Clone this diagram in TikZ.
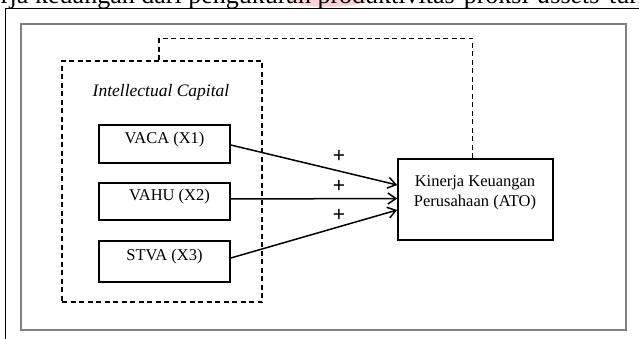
\documentclass[tikz,border=0pt]{standalone}
\usepackage{fontspec}
\setmainfont{Liberation Serif}
\newfontfamily\plusfont{Liberation Sans}
\usetikzlibrary{arrows.meta}
\begin{document}
\begin{tikzpicture}[x=1pt,y=-1pt,
  box/.style={draw=black, line width=1.6pt, minimum width=131pt, inner sep=0pt},
  boxtext/.style={inner sep=0pt, font=\fontsize{16.5}{20}\selectfont},
  dashline/.style={draw=black, line width=1.1pt, dash pattern=on 5pt off 3.5pt},
  link/.style={line width=1.5pt, -{Straight Barb[length=8pt,width=11pt]}},
  plus/.style={font=\plusfont\fontsize{21}{21}\selectfont, inner sep=0pt}]
\useasboundingbox (0,0) rectangle (639,339);
% clipped line of running text above the figure
\begin{scope}
  \clip (0,0) rectangle (639,8.6);
  \fill[red!18] (328,-6) ellipse (46 and 13);
  \node[anchor=base east, inner sep=0pt, font=\fontsize{26}{30}\selectfont] (w0) at (28.5,3.5) {kinerja};
  \node[anchor=base west, inner sep=0pt, font=\fontsize{26}{30}\selectfont] (w1) at (35,3.5) {keuangan dari pengukuran produktivitas\hspace{0.1em} proksi\hspace{0.1em} \textit{assets}\hspace{0.1em} turnover};
\end{scope}
% frames
\draw[line width=1pt] (5,339) -- (5,9) -- (639,9);
\draw[gray, line width=1.5pt] (21,24) rectangle (626,330);
% intellectual capital group
\node[dashline, minimum width=200pt, minimum height=241pt, inner sep=0pt] (ic) at (162,181.5) {};
\node[inner sep=0pt, font=\itshape\fontsize{17.5}{20}\selectfont] (ictitle) at (161,92) {Intellectual Capital};
\node[box, minimum height=38pt] (vaca) at (164.5,144) {};
\node[box, minimum height=37pt] (vahu) at (164.5,201.5) {};
\node[box, minimum height=41pt] (stva) at (164.5,261.5) {};
\node[boxtext] (vacat) at (164.5,140) {VACA (X1)};
\node[boxtext] (vahut) at (169.5,197) {VAHU (X2)};
\node[boxtext] (stvat) at (164.5,257) {STVA (X3)};
% dependent variable
\node[box, minimum width=155pt, minimum height=81pt] (ato) at (475.5,199.5) {};
\node[boxtext, align=center] (atot) at (475,193) {Kinerja Keuangan\\Perusahaan (ATO)};
% connectors
\draw[link] ([yshift=-1pt]vaca.east) -- ([yshift=14.5pt]ato.west);
\draw[link] ([yshift=2.5pt]vahu.east) -- ([yshift=1pt]ato.west);
\draw[link] ([yshift=3.5pt]stva.east) -- ([yshift=-10.5pt]ato.west);
\node[plus] (p1) at (339,156) {+};
\node[plus] (p2) at (339,186) {+};
\node[plus] (p3) at (339,215) {+};
\draw[dashline] ([xshift=-3pt]ic.north) -- ++(0,-22) -| ([xshift=-3pt]ato.north);
\end{tikzpicture}
\end{document}
